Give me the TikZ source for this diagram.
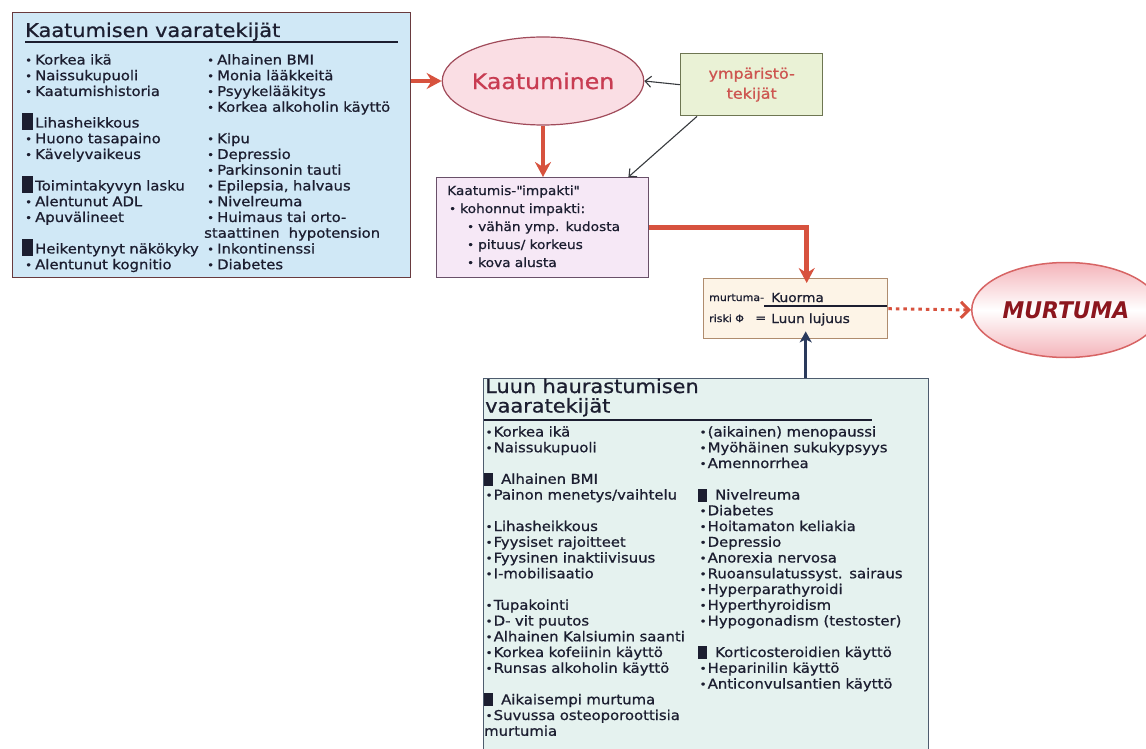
\documentclass[tikz,border=0pt]{standalone}
\usepackage{fontspec}
\setmainfont{DejaVu Sans}[FakeStretch=1.1, FakeBold=0.8]
\newfontfamily\murtfont{DejaVu Sans}[FakeStretch=0.95]
\usetikzlibrary{positioning,shapes.geometric,arrows.meta}

\definecolor{inkc}{RGB}{28,30,48}
\definecolor{kaatfill}{RGB}{208,232,246}
\definecolor{kaatline}{RGB}{105,58,62}
\definecolor{kaatpink}{RGB}{250,222,228}
\definecolor{kaatedge}{RGB}{160,75,90}
\definecolor{kaattext}{RGB}{200,60,82}
\definecolor{ympfill}{RGB}{234,242,214}
\definecolor{ympline}{RGB}{110,118,82}
\definecolor{ymptext}{RGB}{205,85,80}
\definecolor{impfill}{RGB}{246,232,246}
\definecolor{impline}{RGB}{105,80,105}
\definecolor{murtfill}{RGB}{253,244,231}
\definecolor{murtline}{RGB}{175,140,110}
\definecolor{murtpink}{RGB}{244,180,186}
\definecolor{murtedge}{RGB}{215,100,100}
\definecolor{murttext}{RGB}{140,22,30}
\definecolor{luufill}{RGB}{229,242,239}
\definecolor{luuline}{RGB}{78,92,110}
\definecolor{redarr}{RGB}{215,82,62}
\definecolor{greyarr}{RGB}{55,58,62}
\definecolor{bluearr}{RGB}{42,58,92}

% list markers
\newcommand{\smalldot}{\raisebox{0.5pt}{\fontsize{10.5}{10.5}\selectfont•}}
\newcommand{\kbul}{\makebox[13pt][l]{\hspace{3pt}\smalldot}}
\newcommand{\ksq}{\makebox[13pt][l]{\smash{\rule[-2.5pt]{11pt}{17pt}}}}
\newcommand{\lbul}{\makebox[9.5pt][l]{\hspace{1.5pt}\smalldot}}
\newcommand{\lsq}{\makebox[17pt][l]{\smash{\rule[-2pt]{9pt}{13pt}}}}
\newcommand{\ibul}{\makebox[13pt][l]{\hspace{2pt}\smalldot}}

\begin{document}
\begin{tikzpicture}[x=1pt, y=-1pt,
  riskbox/.style={draw, line width=1.4pt, inner sep=0pt, anchor=north west},
  listtext/.style={anchor=base west, inner sep=0pt, align=left, text width=240pt,
    text=inkc, font=\fontsize{13.5}{15.75}\selectfont},
  headtext/.style={anchor=base west, inner sep=0pt, align=left, text width=400pt,
    text=inkc, font=\fontsize{19}{19.5}\selectfont},
  redarrow/.style={draw=redarr, line width=4.5pt, -{Stealth[length=15pt, width=16pt, inset=5pt]}},
  thinarrow/.style={draw=greyarr, line width=1.1pt, -{Straight Barb[length=6pt, width=11pt]}},
  bluearrow/.style={draw=bluearr, line width=2.5pt, -{Stealth[length=11pt, width=12pt, inset=3pt]}},
  dotarrow/.style={draw=redarr, line width=3pt, dash pattern=on 3.5pt off 4pt,
    -{Straight Barb[length=8pt, width=16pt]}},
]
  \useasboundingbox (0,0) rectangle (1146,749);
  \clip (0,0) rectangle (1146,749);

  % Define boxes
  \node[riskbox, draw=kaatline, fill=kaatfill, minimum width=398pt, minimum height=265pt] (kaatRisk) at (12,12) {};
  \node[ellipse, draw=kaatedge, fill=kaatpink, line width=1.2pt, minimum width=163pt, minimum height=88pt,
    inner sep=0pt, text=kaattext, font=\fontsize{21.5}{24}\selectfont] (kaatuminen) at (543,81) {Kaatuminen};
  \node[riskbox, draw=ympline, fill=ympfill, minimum width=142pt, minimum height=62pt, align=center,
    text=ymptext, font=\fontsize{14.5}{20}\selectfont] (ymparisto) at (680,53) {ympäristö-\\tekijät};
  \node[riskbox, draw=impline, fill=impfill, minimum width=212pt, minimum height=100pt] (impakti) at (436,177) {};
  \node[riskbox, draw=murtline, fill=murtfill, minimum width=184pt, minimum height=60pt] (murtBox) at (703,278) {};
  \node[ellipse, draw=murtedge, line width=1.5pt, top color=murtpink, bottom color=murtpink, middle color=white,
    minimum width=155pt, minimum height=95pt, text=murttext,
    font=\murtfont\bfseries\itshape\fontsize{23}{24}\selectfont] (murtuma) at (1066,310) {MURTUMA};
  \node[riskbox, draw=luuline, fill=luufill, minimum width=445pt, minimum height=400pt] (luuRisk) at (483,378) {};

  % Texts
  \node[headtext] (kaatTitle) at (25,37) {Kaatumisen vaaratekijät};
  \draw[line width=1.5pt, draw=inkc] (25,42) -- (398,42);
  \node[listtext] (kaatLeft) at (22,64.5) {\kbul Korkea ikä\\ \kbul Naissukupuoli\\ \kbul Kaatumishistoria\\[15.75pt]
    \ksq Lihasheikkous\\ \kbul Huono tasapaino\\ \kbul Kävelyvaikeus\\[15.75pt]
    \ksq Toimintakyvyn lasku\\ \kbul Alentunut ADL\\ \kbul Apuvälineet\\[15.75pt]
    \ksq Heikentynyt näkökyky\\ \kbul Alentunut kognitio};
  \node[listtext] (kaatRight) at (204,64.5) {\kbul Alhainen BMI\\ \kbul Monia lääkkeitä\\ \kbul Psyykelääkitys\\
    \kbul Korkea alkoholin käyttö\\[15.75pt]
    \kbul Kipu\\ \kbul Depressio\\ \kbul Parkinsonin tauti\\ \kbul Epilepsia, halvaus\\ \kbul Nivelreuma\\
    \kbul Huimaus tai orto-\\ staattinen\ \ hypotension\\ \kbul Inkontinenssi\\ \kbul Diabetes};

  \node[listtext, font=\fontsize{12.5}{18}\selectfont] (impaktiText) at (447,195) {Kaatumis-\textquotedbl impakti\textquotedbl\\
    \ibul kohonnut impakti:\\ \hspace{18pt}\ibul vähän ymp. kudosta\\
    \hspace{18pt}\ibul pituus/ korkeus\\ \hspace{18pt}\ibul kova alusta};

  \node[listtext, font=\fontsize{10}{21}\selectfont] (riskiText) at (709,301) {murtuma-\\riski Φ};
  \node[listtext, font=\fontsize{12}{21}\selectfont] (equals) at (755,322) {=};
  \node[listtext, font=\fontsize{12.5}{21}\selectfont] (kuorma) at (771,302) {Kuorma};
  \node[listtext, font=\fontsize{12.5}{21}\selectfont] (lujuus) at (771,323) {Luun lujuus};
  \draw[line width=1.3pt, draw=inkc] (764,306) -- (887,306);

  \node[headtext] (luuTitle) at (485,393) {Luun haurastumisen\\vaaratekijät};
  \draw[line width=1.5pt, draw=inkc] (484,420) -- (872,420);
  \node[listtext] (luuLeft) at (484,436.5) {\lbul Korkea ikä\\ \lbul Naissukupuoli\\[15.75pt]
    \lsq Alhainen BMI\\ \lbul Painon menetys/vaihtelu\\[15.75pt]
    \lbul Lihasheikkous\\ \lbul Fyysiset rajoitteet\\ \lbul Fyysinen inaktiivisuus\\ \lbul I-mobilisaatio\\[15.75pt]
    \lbul Tupakointi\\ \lbul D- vit puutos\\ \lbul Alhainen Kalsiumin saanti\\ \lbul Korkea kofeiinin käyttö\\
    \lbul Runsas alkoholin käyttö\\[15.75pt]
    \lsq Aikaisempi murtuma\\ \lbul Suvussa osteoporoottisia\\ murtumia};
  \node[listtext] (luuRight) at (698,436.5) {\lbul (aikainen) menopaussi\\ \lbul Myöhäinen sukukypsyys\\
    \lbul Amennorrhea\\[15.75pt]
    \lsq Nivelreuma\\ \lbul Diabetes\\ \lbul Hoitamaton keliakia\\ \lbul Depressio\\ \lbul Anorexia nervosa\\
    \lbul Ruoansulatussyst. sairaus\\ \lbul Hyperparathyroidi\\ \lbul Hyperthyroidism\\
    \lbul Hypogonadism (testoster)\\[15.75pt]
    \lsq Korticosteroidien käyttö\\ \lbul Heparinilin käyttö\\ \lbul Anticonvulsantien käyttö};

  % Draw arrows
  \coordinate (murtUp) at ([xshift=10pt]murtBox.south);
  \draw[redarrow] (kaatRisk.east |- kaatuminen.west) -- (kaatuminen.west);
  \draw[redarrow] (kaatuminen.south) -- (impakti.north -| kaatuminen.south);
  \draw[redarrow] (impakti.east) -| ([xshift=11pt, yshift=-5pt]murtBox.north);
  \draw[thinarrow] (ymparisto.west) -- (kaatuminen.east);
  \draw[thinarrow] ([xshift=17pt]ymparisto.south west) -- ([xshift=-21pt]impakti.north east);
  \draw[bluearrow] (luuRisk.north -| murtUp) -- ([yshift=8pt]murtUp);
  \draw[dotarrow] (murtBox.east) -- (murtuma.west);
\end{tikzpicture}
\end{document}
